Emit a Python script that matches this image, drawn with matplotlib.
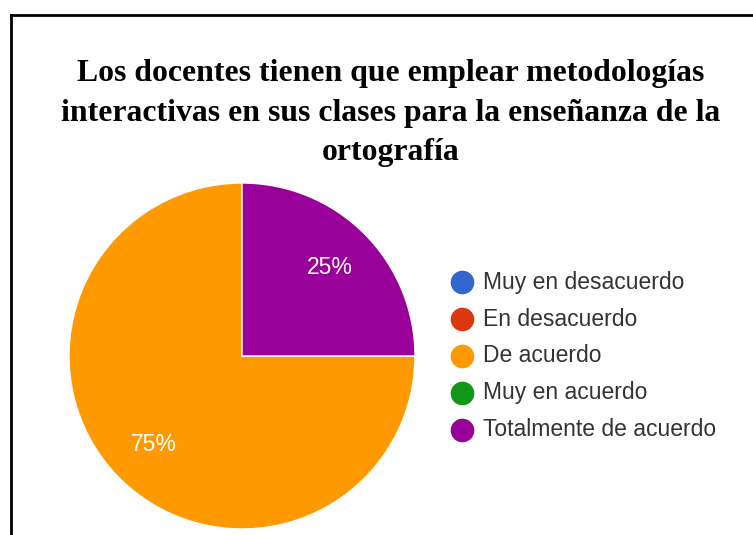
import matplotlib.pyplot as plt
from matplotlib.lines import Line2D

categorias = ["Muy en desacuerdo", "En desacuerdo", "De acuerdo", "Muy en acuerdo", "Totalmente de acuerdo"]
porcentajes = [0, 0, 75, 0, 25]
colores = ["#3366cc", "#dc3912", "#ff9900", "#109618", "#990099"]
titulo = "Los docentes tienen que emplear metodologías\ninteractivas en sus clases para la enseñanza de la\nortografía"

W, H = 753, 535
fig = plt.figure(figsize=(W / 100, H / 100), dpi=100)

def fx(px):
    return px / W

def fy(py):
    return 1 - py / H

# marco (solo arriba e izquierda visibles)
fig.add_artist(Line2D([fx(11), 1], [fy(15), fy(15)], color="black", lw=2, transform=fig.transFigure))
fig.add_artist(Line2D([fx(11), fx(11)], [fy(15), 0], color="black", lw=2, transform=fig.transFigure))

fig.text(fx(391), fy(113), titulo, ha="center", va="center", fontsize=22.9,
         fontweight="bold", family="Liberation Serif", linespacing=1.46)

# pie
cx, cy, r = 242, 356, 173
ax = fig.add_axes([fx(cx - r), fy(cy + r), fx(2 * r), 2 * r / H])
vals = [v for v in porcentajes if v > 0]
cols = [c for v, c in zip(porcentajes, colores) if v > 0]
wedges, texts, autotexts = ax.pie(vals, colors=cols, startangle=90, counterclock=True,
                                  autopct=lambda p: f"{p:.0f}%", pctdistance=0.72,
                                  wedgeprops=dict(edgecolor="white", linewidth=1),
                                  textprops=dict(color="white", fontsize=16.5, family="Liberation Sans"))
ax.set_xlim(-1, 1)
ax.set_ylim(-1, 1)
ax.set_aspect("auto")
ax.axis("off")

# leyenda
ley_x, ley_y0, paso = 462, 282, 37
for i, (cat, col) in enumerate(zip(categorias, colores)):
    y = ley_y0 + i * paso
    fig.add_artist(Line2D([fx(ley_x)], [fy(y)], marker="o", markersize=16, color=col,
                          linestyle="none", transform=fig.transFigure))
    fig.text(fx(ley_x + 21), fy(y), cat, ha="left", va="center", fontsize=16.5,
             family="Liberation Sans", color="#333333")

fig.savefig("out.png", dpi=100)
